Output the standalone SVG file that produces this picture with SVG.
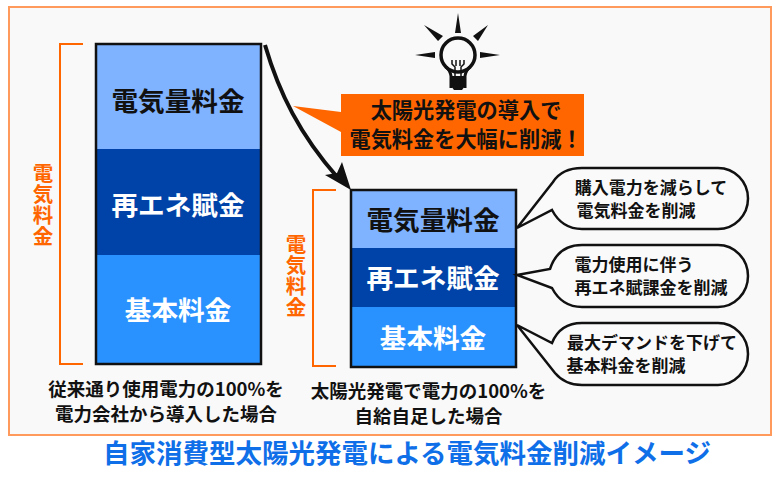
<svg xmlns="http://www.w3.org/2000/svg" width="780" height="482" viewBox="0 0 780 482">
<style>
text{font-family:"Noto Sans CJK JP","Noto Sans",sans-serif;font-weight:700;text-anchor:middle}
.k{font-size:18.5px;fill:#111}
.s{font-size:17px;fill:#111}
.c{font-size:21.2px;fill:#111}
.w{font-size:26.6px;fill:#fff}
.b{font-size:26.6px;fill:#111}
.o{font-size:20.5px;fill:#ff6600;writing-mode:vertical-rl;letter-spacing:.5px}
.br{fill:none;stroke:#ff6600;stroke-width:2}
.bx{stroke:#111;stroke-width:2.5;fill:none}
.bub{fill:#fafafa;stroke:#111;stroke-width:2.5}
</style>
<rect width="780" height="482" fill="#fff"/>
<rect id="frame" x="9" y="7" width="762" height="428" fill="#f9f9f9" stroke="#ff9a5c" stroke-width="2"/>
<text id="title" x="407" y="463" style="font-size:26.5px;fill:#0f6fe8">自家消費型太陽光発電による電気料金削減イメージ</text>

<g id="bar-before">
<rect x="96" y="44" width="165" height="105" fill="#7fb2ff"/>
<rect x="96" y="149" width="165" height="106" fill="#0043a8"/>
<rect x="96" y="255" width="165" height="109" fill="#2a92ff"/>
<rect class="bx" x="96" y="44" width="165" height="320"/>
<text class="b" x="178" y="111">電気量料金</text>
<text class="w" x="178" y="215">再エネ賦金</text>
<text class="w" x="178" y="320">基本料金</text>
</g>
<g id="bracket-before">
<path class="br" d="M83 44H60V364H83"/>
<text class="o" x="43" y="205">電気料金</text>
</g>
<g id="caption-before">
<text class="k" x="166" y="396">従来通り使用電力の100%を</text>
<text class="k" x="166" y="421">電力会社から導入した場合</text>
</g>

<g id="bar-after">
<rect x="351" y="190" width="165" height="58" fill="#7fb2ff"/>
<rect x="351" y="248" width="165" height="59" fill="#0043a8"/>
<rect x="351" y="307" width="165" height="60" fill="#2a92ff"/>
<rect class="bx" x="351" y="190" width="165" height="177"/>
<text class="b" x="433" y="230">電気量料金</text>
<text class="w" x="433" y="288">再エネ賦金</text>
<text class="w" x="433" y="348">基本料金</text>
</g>
<g id="bracket-after">
<path class="br" d="M336 190H313V366H336"/>
<text class="o" x="296" y="276">電気料金</text>
</g>
<g id="caption-after">
<text class="k" x="428.500" y="398">太陽光発電で電力の100%を</text>
<text class="k" x="428.500" y="423">自給自足した場合</text>
</g>

<g id="connectors">
<path d="M265 45C279 93 300 135 338 178" fill="none" stroke="#111" stroke-width="4"/>
<path d="M351 190L325 175L337 173L342 162Z" fill="#111"/>
</g>

<g id="callout">
<path d="M341 94H584V156H341V132L293 106L341 112Z" fill="#ff6600"/>
<text class="c" x="466" y="118">太陽光発電の導入で</text>
<text class="c" x="466" y="147">電気料金を大幅に削減！</text>
</g>

<g id="bulb">
<path d="M458 13L461 33H455Z M424 25L443 36L438 41Z M488 25L478 41L473 36Z M415 55L435 52V58Z M500 55L480 52V58Z" fill="#111"/>
<circle cx="458" cy="55" r="17" fill="none" stroke="#111" stroke-width="3.500"/>
<path d="M451 88V76Q450 70 446 67M465 88V76Q466 70 470 67" fill="none" stroke="#111" stroke-width="3"/>
<path d="M451 76H465V86L462 90H454L451 86Z" fill="#111"/>
<path d="M452 60V64L455 67V76M456 60V66M460 60V66M464 60V64L461 67V76" fill="none" stroke="#111" stroke-width="1.500"/>
</g>

<g id="bubble-1">
<path class="bub" d="M517 228L553 182Q562 168 582 168H718A30 30.500 0 0 1 718 229H582Q562 229 552 210Z"/>
<text class="s" x="651" y="194">購入電力を減らして</text>
<text class="s" x="636" y="217">電気料金を削減</text>
</g>
<g id="bubble-2">
<path class="bub" d="M517 275L550 269Q558 245 582 245H718A30 31 0 0 1 718 307H582Q562 307 552 288Z"/>
<text class="s" x="634" y="271">電力使用に伴う</text>
<text class="s" x="651" y="294">再エネ賦課金を削減</text>
</g>
<g id="bubble-3">
<path class="bub" d="M517 325L552 343Q560 323 582 323H718A30 31 0 0 1 718 385H582Q565 385 555 373Z"/>
<text class="s" x="652" y="349">最大デマンドを下げて</text>
<text class="s" x="626" y="372">基本料金を削減</text>
</g>
</svg>
